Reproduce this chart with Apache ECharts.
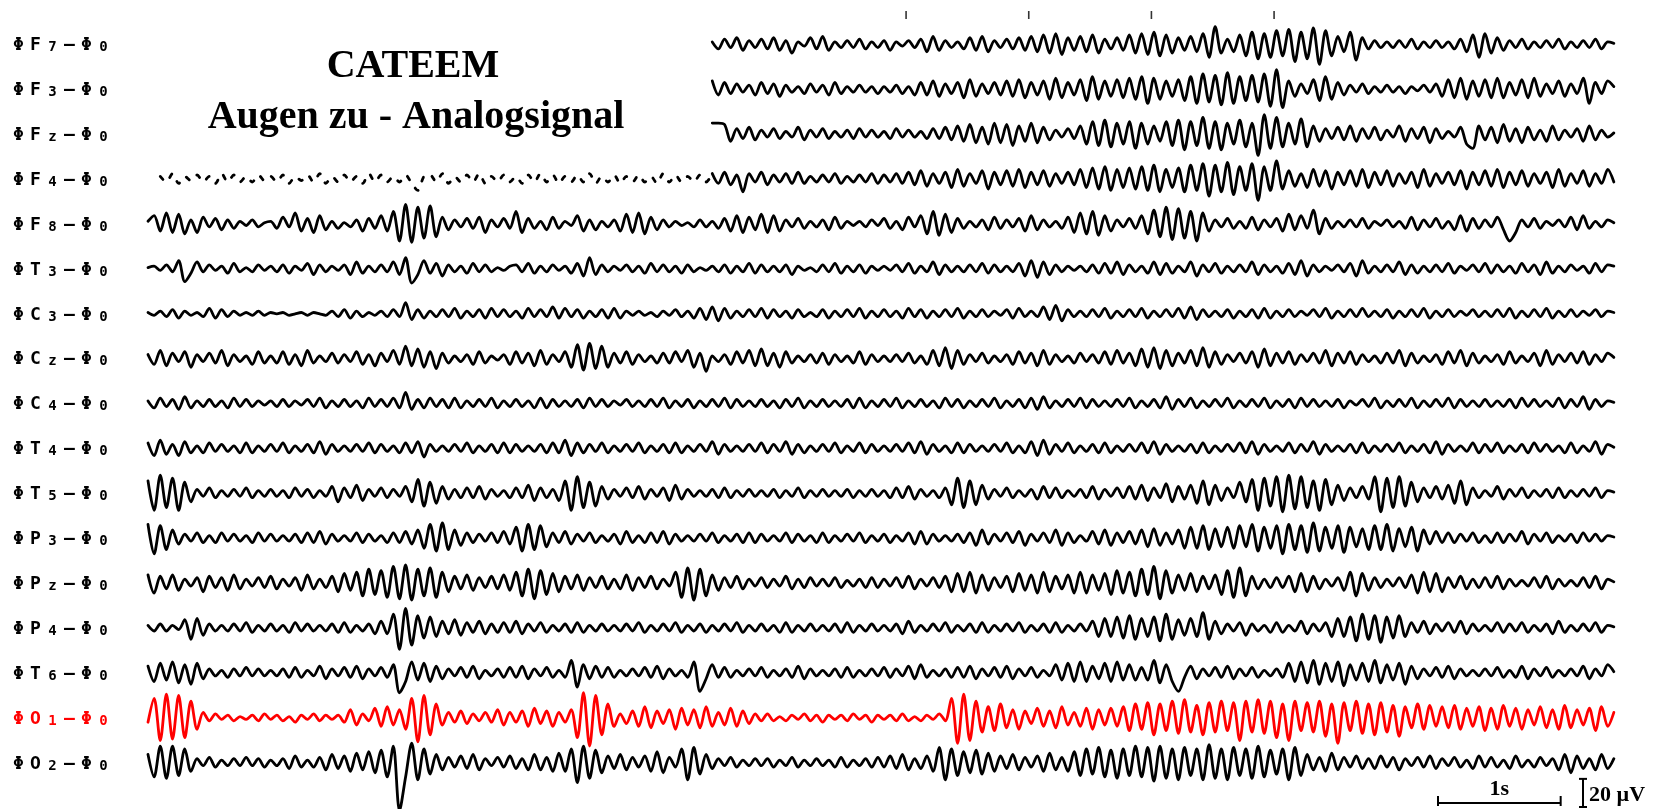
<!DOCTYPE html>
<html><head><meta charset="utf-8">
<script src="https://cdn.jsdelivr.net/npm/echarts@6/dist/echarts.min.js"></script>
<style>html,body{margin:0;padding:0;background:#fff;}#c{width:1662px;height:809px;}</style>
</head><body><div id="c"></div>
<script>
// ---- data ----
const channelLetters = ['F','F','F','F','F','T','C','C','C','T','T','P','P','P','T','O','O'];
const channelSubs    = ['7','3','z','4','8','3','3','z','4','4','5','3','z','4','6','1','2'];
const channelColors  = ['#000','#000','#000','#000','#000','#000','#000','#000','#000','#000','#000','#000','#000','#000','#000','#ff0000','#000'];
const startTimes     = [4.6,4.6,4.6,0,0,0,0,0,0,0,0,0,0,0,0,0,0];   // seconds
const sampleStep = 0.05;            // seconds per sample
const f4DottedSamples = [2, 92];    // F4: dotted part (sample range)
const eventMarks = [6.18, 7.18, 8.18, 9.18];  // seconds
const scaleSeconds = 1, scaleMicroVolt = 20;
const titleLines = ['CATEEM', 'Augen zu - Analogsignal'];

const F7 = [2,-3,4,-2,5,-4,3,-2,
4,-3,5,-4,3,-6,2,-1,5,-3,6,-4,2,-2,3,-2,4,-3,2,-2,
3,-4,2,-1,3,-2,4,-5,6,-4,3,-2,2,-3,5,-4,6,-5,3,-2,
4,-3,5,-4,6,-5,7,-6,8,-7,5,-4,6,-5,7,-6,4,-3,5,-4,
7,-6,8,-7,9,-8,7,-6,5,-4,6,-5,8,-9,13,-6,4,-5,7,-8,
9,-10,8,-9,10,-8,11,-12,9,-10,12,-14,10,-8,6,-5,9,-11,5,-3,
3,-2,2,-2,3,-2,4,-3,2,-2,3,-2,2,-3,4,-5,7,-9,8,-6,
5,-4,3,-2,4,-3,2,-2,3,-2,4,-3,2,-2,3,-2,4,-3,2,1];
const F3 = [6,-4,5,-3,4,-2,3,-4,
5,-3,4,-5,3,-2,2,-3,4,-2,3,-4,5,-3,2,-2,3,-2,2,-3,
2,-2,3,-3,2,-4,5,-4,6,-5,4,-3,5,-6,7,-5,4,-3,5,-4,
6,-5,7,-6,5,-4,6,-7,8,-6,5,-4,7,-8,9,-7,6,-5,7,-6,
8,-7,9,-10,8,-7,6,-5,7,-8,9,-10,11,-9,10,-11,12,-10,9,-8,
10,-9,11,-12,14,-13,6,-5,4,-3,7,-8,9,-7,5,-4,3,-2,4,-3,
2,-2,3,-2,2,-3,2,-1,3,-2,4,-5,7,-6,8,-7,6,-5,7,-6,
8,-6,5,-4,7,-6,8,-5,4,-3,6,-5,4,-3,8,-10,5,-3,6,2];
const Fz = [8,8,7,-5,4,-3,5,-4,
3,-2,4,-3,2,-2,5,-4,3,-2,4,-3,2,-2,3,-3,4,-2,3,-2,
2,-3,4,-2,3,-2,2,-3,4,-3,5,-4,6,-5,7,-6,5,-7,8,-6,
7,-8,6,-5,8,-6,5,-4,3,-2,4,-3,6,-7,9,-8,10,-9,8,-7,
9,-10,8,-7,6,-5,9,-8,10,-11,9,-8,12,-10,9,-11,8,-7,10,-9,
8,-15,14,-10,12,-9,8,-7,11,-9,6,-5,4,-3,5,-4,6,-5,4,-3,
5,-4,3,-2,6,-5,4,-3,5,-6,4,-3,2,-2,5,-7,-10,6,-4,5,
-6,7,-5,4,-6,5,-4,3,-5,6,-4,3,-2,4,-5,6,-4,3,-2,1];
const F4 = [3,-3,2,-2,4,-3,2,-1,3,-2,2,-3,4,-2,3,-2,2,-2,3,-1,
2,-2,3,-3,2,-1,3,-2,4,-3,2,-2,3,-2,2,-3,4,-2,3,-2,
2,-2,3,-3,-8,2,3,-2,4,-3,2,-2,3,-2,4,-3,2,-2,3,-2,
2,-3,3,-2,4,-2,3,-3,2,-2,3,-2,4,-3,2,-2,3,-3,2,-2,
3,-2,2,-3,4,-2,3,-2,2,-2,3,-2,4,-3,5,-4,3,-9,4,-2,
5,-4,3,-2,4,-3,5,-3,2,-2,3,-2,4,-3,2,-2,3,-2,4,-3,
3,-2,4,-3,5,-4,6,-5,4,-3,5,-6,7,-5,4,-3,6,-7,5,-4,
6,-5,7,-6,5,-4,6,-5,4,-3,5,-4,7,-6,8,-7,9,-8,7,-6,
8,-7,9,-8,10,-9,7,-6,8,-9,10,-8,11,-12,10,-9,12,-11,9,-8,
11,-15,9,-8,13,-7,6,-5,4,-6,7,-5,6,-7,5,-4,6,-5,7,-6,
5,-4,6,-5,4,-3,5,-6,7,-5,4,-3,5,-4,6,-7,5,-4,6,-5,
7,-6,5,-4,6,-5,4,-3,5,-6,7,-5,4,-3,6,-5,4,-3,7,-2];
const F8 = [2,6,-5,8,-6,7,-7,3,-6,5,-2,4,-4,3,-3,2,-1,3,-2,1,
2,-3,5,-2,8,-5,4,-6,6,-4,2,-3,1,-2,3,-5,4,-3,6,-5,
9,-12,14,-13,12,-10,13,-9,5,-4,3,-2,4,-3,5,-6,3,-2,4,-3,
9,-6,4,-3,2,-4,5,-3,2,-1,6,-5,3,-4,2,-2,3,-5,7,-6,
8,-7,5,-4,3,-2,2,-1,1,-2,3,-2,2,-3,4,-5,6,-6,5,-4,
7,-6,6,-5,3,-2,4,-3,2,-2,3,-4,5,-3,2,-1,2,-2,3,-1,
4,-3,2,-4,5,-2,6,-7,9,-8,7,-6,4,-3,2,-2,3,-4,5,-3,
3,-2,4,-5,6,-4,3,-2,2,-3,5,-6,8,-7,9,-8,6,-5,3,-2,
4,-3,6,-7,10,-9,12,-11,11,-10,9,-12,8,-5,3,-2,4,-3,2,-3,
5,-4,3,-2,4,-5,7,-4,6,-3,10,-7,4,-3,2,-2,3,-2,4,-3,
2,-1,3,-2,2,-3,5,-4,3,-2,4,-3,2,-4,6,-5,4,-3,3,-2,
5,-4,-12,-6,3,-2,4,-3,2,-1,3,-2,5,-4,6,-3,2,-2,3,1];
const T3 = [1,2,-1,3,-2,6,-9,-3,5,-2,3,-1,2,-3,4,-2,1,-2,3,-1,
2,-2,3,-3,2,-1,4,-4,3,-2,2,-1,3,-4,5,-3,2,-2,3,-2,
5,-4,8,-10,-4,6,-3,4,-5,3,-2,2,-3,4,-2,3,-2,1,-1,2,
3,-2,4,-3,2,-2,3,-1,2,-3,4,-5,8,-4,3,-2,2,-1,3,-2,
2,-3,4,-2,3,-2,2,-3,3,-2,1,-1,2,-2,3,-3,2,-2,4,-3,
3,-2,2,-2,3,-4,2,-1,1,-2,3,-2,4,-3,2,-2,3,-3,2,-1,
2,-1,3,-2,4,-3,2,-2,5,-4,3,-2,2,-2,3,-2,4,-3,3,-2,
2,-2,4,-5,6,-6,5,-4,3,-2,2,-1,2,-2,3,-3,4,-3,5,-4,
3,-2,2,-3,5,-4,4,-3,2,-2,5,-5,3,-2,4,-3,2,-2,3,-2,
5,-4,3,-2,2,-3,4,-4,6,-5,3,-2,2,-1,3,-2,4,-5,6,-3,
2,-2,3,-2,5,-4,3,-3,2,-2,3,-2,4,-3,2,-1,3,-2,4,-3,
3,-2,2,-3,4,-2,3,-4,5,-3,2,-2,3,-1,2,-3,4,-2,3,2];
const C3 = [1,-1,2,-2,3,-3,2,-1,1,-2,4,-3,3,-2,2,-1,1,-1,2,-1,
1,0,1,-1,0,1,-1,1,0,-1,2,-2,3,-3,2,-2,1,-1,2,-2,
3,-2,8,-4,3,-3,2,-2,3,-2,4,-3,2,-2,3,-3,4,-2,3,-2,
2,-3,4,-2,3,-2,5,-3,4,-2,3,-3,2,-2,3,-3,4,-3,2,-1,
2,-1,1,-2,2,-1,3,-2,2,-3,4,-4,5,-5,4,-3,2,-2,3,-2,
4,-3,3,-2,2,-3,3,-2,1,-2,3,-3,2,-2,3,-2,4,-3,2,-2,
3,-2,2,-3,4,-2,3,-3,2,-2,3,-2,4,-3,2,-2,3,-2,2,-1,
3,-3,4,-2,2,-2,5,-4,6,-5,3,-2,2,-2,3,-2,4,-3,2,-2,
3,-2,4,-3,2,-2,3,-2,4,-3,5,-4,3,-2,2,-2,3,-3,2,-2,
3,-3,4,-3,2,-2,3,-2,2,-1,3,-2,4,-3,2,-2,3,-2,4,-2,
2,-2,3,-3,2,-2,3,-2,4,-3,2,-2,3,-2,2,-1,3,-2,2,-2,
3,-2,4,-3,2,-2,3,-2,4,-3,2,-2,3,-2,2,-1,3,-2,2,1];
const Cz = [3,-4,6,-5,4,-2,5,-6,3,-2,4,-3,6,-5,3,-2,2,-4,5,-3,
2,-3,5,-4,3,-5,6,-3,2,-2,4,-3,3,-2,5,-4,3,-5,4,-2,
6,-4,9,-5,7,-6,5,-7,4,-3,2,-2,3,-4,5,-3,2,-1,3,-4,
5,-3,4,-5,6,-4,3,-2,5,-6,10,-8,11,-7,9,-6,4,-3,5,-4,
3,-2,2,-3,4,-3,5,-2,6,-6,4,-9,2,-2,3,-4,5,-3,6,-5,
7,-5,4,-6,5,-3,2,-2,3,-3,4,-4,3,-2,2,-3,5,-4,3,-2,
2,-2,3,-2,4,-3,2,-4,6,-5,8,-7,6,-4,3,-2,4,-3,2,-2,
3,-4,5,-3,4,-5,6,-4,3,-2,2,-3,4,-2,3,-3,5,-4,6,-3,
4,-5,7,-6,8,-7,6,-5,4,-3,6,-5,8,-6,5,-4,3,-2,4,-3,
5,-6,7,-5,4,-3,5,-4,3,-2,4,-3,6,-5,4,-3,5,-4,3,-2,
2,-3,4,-3,6,-5,4,-3,2,-2,3,-4,5,-3,6,-5,4,-3,2,-2,
3,-4,5,-3,2,-2,4,-5,6,-4,3,-2,4,-3,5,-4,3,-2,4,1];
const C4 = [2,-3,4,-2,3,-4,5,-3,2,-2,3,-2,2,-3,4,-2,3,-2,2,-1,
2,-2,3,-2,2,-1,3,-2,4,-3,2,-2,3,-2,2,-3,4,-2,3,-2,
4,-3,8,-4,3,-3,4,-2,3,-3,4,-3,2,-2,3,-2,4,-3,2,-2,
3,-2,2,-3,4,-3,3,-2,2,-2,3,-3,4,-2,3,-2,2,-1,3,-2,
2,-2,3,-2,4,-3,2,-2,3,-3,2,-2,3,-2,4,-3,3,-2,2,-2,
3,-2,2,-3,3,-2,4,-3,2,-2,3,-2,2,-2,3,-3,4,-3,2,-2,
3,-2,4,-3,2,-2,3,-2,2,-3,4,-2,3,-3,2,-2,3,-2,4,-3,
2,-2,3,-3,4,-4,5,-3,2,-2,3,-2,4,-3,3,-2,2,-2,3,-2,
4,-3,2,-2,3,-3,5,-4,3,-2,4,-3,2,-2,3,-2,4,-3,2,-2,
3,-2,4,-3,2,-2,3,-3,4,-2,3,-2,2,-2,3,-3,2,-1,3,-2,
4,-3,2,-2,3,-2,4,-3,2,-2,3,-2,4,-3,3,-2,2,-2,3,-2,
2,-2,3,-3,4,-2,3,-2,2,-2,4,-3,3,-2,5,-4,3,-2,2,1];
const T4 = [4,-5,6,-4,3,-5,5,-3,2,-3,4,-2,3,-2,2,-3,4,-3,2,-2,
3,-2,4,-3,2,-2,3,-3,5,-4,3,-2,2,-2,3,-2,4,-3,3,-2,
2,-3,4,-3,5,-6,3,-2,2,-2,3,-2,4,-3,2,-2,3,-3,4,-3,
3,-2,2,-2,3,-3,4,-3,6,-5,4,-3,3,-2,4,-3,2,-2,3,-2,
4,-3,2,-2,3,-3,4,-3,2,-2,3,-2,5,-4,3,-2,2,-2,3,-2,
4,-3,3,-2,5,-4,3,-3,2,-2,3,-2,4,-3,2,-2,4,-3,3,-2,
2,-2,3,-2,4,-3,5,-4,3,-2,2,-3,4,-3,3,-2,2,-2,3,-2,
4,-3,2,-3,5,-5,6,-4,3,-2,4,-3,2,-2,3,-3,4,-3,2,-2,
3,-2,4,-3,5,-4,3,-2,2,-2,3,-3,4,-3,2,-2,3,-2,4,-3,
5,-4,3,-2,2,-2,4,-3,3,-2,5,-4,3,-2,2,-2,3,-3,4,-3,
2,-2,3,-2,4,-3,2,-2,3,-3,5,-4,3,-2,2,-2,4,-3,3,-2,
4,-3,2,-2,3,-3,4,-2,3,-2,2,-3,4,-3,2,-2,5,-4,3,1];
const T5 = [9,-12,13,-10,11,-12,8,-6,3,-2,4,-3,2,-2,3,-2,4,-3,2,-2,
3,-2,2,-3,4,-2,3,-3,2,-2,5,-6,4,-3,6,-5,3,-2,4,-3,
3,-2,5,-6,10,-9,8,-7,5,-4,3,-3,4,-3,5,-4,3,-2,2,-3,
4,-3,6,-5,4,-3,3,-5,9,-12,12,-10,8,-9,5,-4,3,-2,4,-3,
5,-4,3,-2,4,-5,6,-4,3,-2,2,-2,3,-3,4,-3,2,-2,3,-2,
2,-2,3,-3,2,-2,4,-3,2,-2,3,-2,2,-2,3,-3,2,-2,3,-2,
2,-3,4,-3,5,-4,3,-2,2,-3,4,-8,11,-10,9,-8,6,-4,3,-2,
4,-3,2,-2,3,-4,5,-3,4,-3,2,-2,3,-3,5,-4,3,-2,4,-3,
5,-4,6,-5,4,-3,7,-6,5,-4,6,-7,9,-8,6,-5,4,-3,8,-6,
10,-12,11,-9,12,-13,13,-11,12,-10,9,-12,10,-8,6,-5,4,-3,5,-4,
12,-13,11,-10,12,-9,8,-6,4,-3,5,-4,6,-7,9,-8,4,-3,2,-2,
5,-4,3,-2,4,-3,2,-2,3,-3,4,-3,2,-2,3,-2,4,-3,2,1];
const P3 = [10,-11,9,-8,6,-4,3,-2,4,-3,2,-3,4,-2,3,-2,2,-3,4,-2,
3,-2,2,-2,3,-3,4,-3,5,-4,3,-2,2,-2,4,-3,3,-2,2,-3,
4,-3,5,-4,6,-7,10,-9,11,-8,6,-5,4,-3,3,-2,4,-3,5,-4,
8,-9,10,-8,9,-6,4,-3,5,-4,3,-2,4,-3,2,-2,3,-4,5,-3,
2,-3,4,-3,5,-4,3,-2,2,-2,3,-2,4,-3,2,-2,3,-3,4,-3,
3,-2,2,-2,4,-3,3,-2,2,-3,4,-3,2,-2,3,-2,4,-3,2,-2,
3,-3,2,-2,4,-4,5,-4,3,-2,2,-2,3,-3,4,-5,6,-4,3,-2,
4,-3,5,-5,3,-2,4,-3,6,-5,4,-3,2,-2,5,-4,6,-5,4,-3,
5,-4,6,-6,7,-5,4,-4,6,-7,8,-7,9,-8,7,-6,8,-7,9,-6,
10,-9,8,-7,9,-11,10,-8,9,-10,11,-9,8,-7,9,-10,8,-6,7,-8,
9,-8,10,-9,7,-6,8,-9,6,-4,5,-3,4,-3,3,-2,4,-3,2,-3,
4,-3,3,-2,5,-4,3,-2,4,-3,2,-2,3,-3,4,-2,3,-2,2,1];
const Pz = [6,-7,5,-4,6,-5,3,-2,4,-6,5,-3,4,-5,6,-4,3,-2,4,-3,
5,-4,3,-2,4,-5,6,-4,3,-3,5,-6,7,-5,8,-9,10,-8,9,-10,
12,-11,13,-12,10,-9,11,-10,8,-6,5,-4,6,-5,4,-3,5,-4,6,-5,
8,-9,10,-11,9,-8,7,-6,5,-4,6,-5,4,-3,5,-4,3,-4,6,-5,
4,-3,5,-4,3,-2,8,-10,11,-12,10,-9,6,-5,4,-3,5,-4,3,-2,
4,-3,3,-2,5,-4,3,-3,4,-2,3,-2,4,-3,2,-2,3,-3,4,-3,
3,-2,4,-3,5,-4,3,-2,4,-3,5,-6,7,-6,8,-7,6,-5,4,-3,
5,-6,7,-5,6,-7,8,-6,5,-4,6,-7,8,-7,6,-5,7,-8,9,-7,
8,-9,10,-8,12,-11,9,-7,6,-5,7,-6,5,-4,6,-8,9,-10,11,-9,
5,-4,3,-3,4,-3,5,-6,7,-6,5,-4,3,-2,4,-5,8,-9,7,-5,
4,-3,3,-2,4,-3,6,-7,8,-6,7,-6,4,-3,5,-4,3,-3,4,-3,
5,-4,3,-2,2,-2,4,-3,5,-4,3,-2,2,-2,4,-3,5,-4,3,1];
const P4 = [2,-2,3,-2,2,-1,6,-8,7,-5,3,-2,2,-2,3,-2,4,-3,2,-2,
3,-2,2,-3,4,-2,3,-2,2,-2,3,-3,4,-3,2,-2,3,-4,5,-4,
10,-15,14,-12,9,-7,8,-6,5,-4,6,-5,4,-3,5,-4,3,-3,4,-3,
5,-4,3,-2,4,-3,2,-2,3,-3,4,-3,2,-2,3,-2,2,-2,3,-2,
4,-3,2,-2,3,-2,4,-3,2,-2,3,-3,2,-2,3,-2,4,-3,2,-2,
3,-2,2,-3,4,-3,2,-2,3,-2,2,-2,3,-3,4,-3,2,-2,3,-2,
2,-2,3,-4,5,-3,2,-2,3,-2,4,-3,2,-2,3,-3,4,-3,2,-2,
3,-2,4,-3,2,-2,3,-3,4,-3,2,-2,3,-2,5,-6,7,-6,8,-7,
9,-8,7,-6,8,-9,10,-8,6,-5,7,-6,11,-8,5,-4,3,-2,4,-5,
3,-2,2,-3,4,-3,2,-2,5,-4,3,-2,4,-6,7,-6,8,-9,10,-8,
9,-10,8,-7,9,-6,4,-3,5,-4,3,-2,4,-3,5,-4,3,-2,2,-2,
4,-3,3,-2,4,-3,2,-2,3,-4,5,-3,2,-2,3,-2,4,-3,2,1];
const T6 = [5,-6,7,-5,8,-7,6,-8,7,-4,3,-2,2,-3,3,-2,4,-2,3,-2,
2,-2,3,-3,4,-3,2,-2,5,-4,3,-2,4,-3,5,-4,3,-2,4,-3,
6,-14,-6,8,-5,7,-6,5,-4,3,-2,4,-3,5,-4,2,-2,3,-3,4,
-3,5,-4,3,-2,4,-3,2,-3,9,-10,6,-4,5,-3,4,-3,2,-2,3,
-2,4,-3,5,-4,3,-2,2,-3,8,-13,-4,6,-3,4,-3,2,-2,3,-2,
4,-3,2,-2,3,-3,5,-4,3,-2,2,-2,3,-3,4,-3,2,-2,3,-2,
4,-3,3,-2,5,-4,6,-3,2,-2,3,-3,4,-3,5,-4,3,-2,4,-3,
5,-4,3,-2,4,-3,2,-2,6,-5,7,-6,8,-6,5,-4,7,-6,8,-5,
6,-5,4,-5,9,-7,6,-6,-13,-3,5,-4,3,-2,4,-3,5,-4,3,-2,
4,-3,2,-2,3,-3,7,-6,8,-7,9,-8,7,-6,8,-9,6,-5,7,-6,
9,-7,6,-5,7,-8,5,-4,3,-2,4,-3,5,-4,3,-2,2,-2,3,-2,
4,-3,2,-3,5,-4,3,-2,4,-3,2,-2,3,-2,5,-4,3,-2,6,1];
const O1 = [-3,14,-16,17,-15,16,-14,12,-8,4,-2,3,-1,2,-2,1,-1,2,-2,3,
-1,2,-2,1,-3,2,-1,3,-2,2,-1,2,-3,6,-5,3,-2,7,-6,8,
-5,6,-8,14,-17,16,-12,10,-5,4,-3,5,-4,3,-2,4,-3,6,-5,4,
-3,5,-6,7,-4,5,-6,4,-3,6,-14,18,-20,16,-12,10,-6,3,-4,5,
-6,8,-7,5,-4,6,-8,7,-5,6,-7,8,-6,4,-5,7,-6,5,-4,3,
-2,3,-2,1,-2,2,-1,3,-2,2,-3,2,-1,2,-2,3,-1,2,-3,2,
-1,2,-2,3,-2,1,-2,2,-1,3,-2,14,-18,17,-16,12,-10,8,-9,10,
-7,6,-8,5,-4,7,-6,5,-7,8,-5,4,-6,7,-8,6,-5,7,-6,8,
-9,10,-8,11,-12,10,-9,12,-11,13,-10,9,-12,11,-10,12,-9,11,-16,12,
-10,13,-11,12,-14,10,-16,12,-9,11,-10,12,-13,10,-18,11,-9,12,-11,10,
-12,11,-10,9,-13,8,-7,10,-8,9,-6,8,-7,9,-8,7,-6,8,-9,7,
-8,9,-6,7,-8,6,-5,8,-7,6,-8,9,-7,6,-5,7,-9,8,-6,4];
const O2 = [6,-10,12,-11,12,-9,10,-6,3,-2,4,-3,2,-2,3,-2,4,-2,3,-3,
2,-2,3,-4,5,-3,2,-3,4,-5,6,-4,5,-6,7,-5,8,-7,9,-10,
12,-34,-10,14,-12,10,-8,6,-5,4,-3,5,-4,6,-5,3,-2,4,-3,5,
-4,3,-5,6,-5,4,-6,7,-6,10,-14,12,-11,9,-7,5,-4,6,-5,4,
-3,5,-6,8,-7,4,-3,10,-12,11,-8,6,-4,3,-2,4,-3,2,-2,3,
-2,3,-3,2,-2,4,-3,2,-2,3,-2,2,-3,4,-3,2,-2,3,-3,4,
-3,5,-4,6,-5,3,-4,5,-6,11,-12,10,-9,8,-7,9,-8,7,-6,5,
-4,6,-5,4,-3,5,-6,7,-5,4,-6,8,-9,10,-8,11,-10,9,-11,10,
-9,12,-10,11,-13,12,-11,10,-12,11,-9,10,-12,13,-11,10,-12,11,-9,10,
-11,12,-10,9,-8,10,-12,11,-9,6,-5,4,-6,7,-5,4,-3,5,-4,3,
-4,5,-3,4,-5,3,-2,4,-3,5,-4,3,-2,4,-3,2,-4,5,-3,4,
-3,2,-4,5,-3,2,-3,4,-2,3,-5,6,-7,5,-4,3,-5,6,-4,3];
const traces = [F7,F3,Fz,F4,F8,T3,C3,Cz,C4,T4,T5,P3,Pz,P4,T6,O1,O2];

// ---- layout ----
const W = 1662, H = 809;
const plotLeft = 148, plotWidth = 1472, tMax = 12;
const firstBase = 44.5, rowGap = 44.9, halfRange = 32, halfPx = 45; // ~1.4 px per µV
const pxPerSec = plotWidth / tMax, pxPerUV = halfPx / halfRange;
const traceWidth = 2.8;

const grids = [], xAxes = [], yAxes = [], series = [], graphics = [];
function addGrid(top, height, ymin, ymax) {
  const gi = grids.length;
  grids.push({left: plotLeft, width: plotWidth, top: top, height: height});
  xAxes.push({type: 'value', gridIndex: gi, min: 0, max: tMax, show: false});
  yAxes.push({type: 'value', gridIndex: gi, min: ymin, max: ymax, show: false});
  return gi;
}
function toPairs(arr, t0, from, to) {
  const out = [];
  for (let k = from; k < Math.min(to, arr.length); k++) out.push([+(t0 + k * sampleStep).toFixed(3), arr[k]]);
  return out;
}
function lineSeries(gi, color, data, dashed) {
  return {type: 'line', xAxisIndex: gi, yAxisIndex: gi, showSymbol: false, silent: true, clip: false, smooth: 0.3,
    lineStyle: {color: color, width: traceWidth, type: dashed ? [4, 10] : 'solid', join: 'round', cap: 'round'}, data: data};
}
traces.forEach((arr, i) => {
  const base = firstBase + rowGap * i;
  const gi = addGrid(base - halfPx, halfPx * 2, -halfRange, halfRange);
  const color = channelColors[i];
  if (i === 3) {
    series.push(lineSeries(gi, color, toPairs(arr, startTimes[i], f4DottedSamples[0], f4DottedSamples[1] + 1), true));
    series.push(lineSeries(gi, color, toPairs(arr, startTimes[i], f4DottedSamples[1], arr.length), false));
  } else {
    series.push(lineSeries(gi, color, toPairs(arr, startTimes[i], 0, arr.length), false));
  }
  graphics.push({type: 'text', x: 10, y: base, silent: true, style: {
    text: '{c|Φ}{c|' + channelLetters[i] + '}{s|' + channelSubs[i] + '}{c|–}{c|Φ}{s|0}',
    verticalAlign: 'middle', align: 'left', fill: color,
    rich: {
      c: {fontFamily: 'DejaVu Sans Mono', fontWeight: 'bold', fontSize: 18, width: 17, align: 'center', lineHeight: 20, verticalAlign: 'bottom', fill: color},
      s: {fontFamily: 'DejaVu Sans Mono', fontWeight: 'bold', fontSize: 14, width: 17, align: 'center', lineHeight: 12, verticalAlign: 'bottom', fill: color}
    }
  }});
});
// event marks grid at top
const mg = addGrid(11, 8, 0, 1);
series.push({type: 'scatter', xAxisIndex: mg, yAxisIndex: mg, silent: true, symbol: 'rect', symbolSize: [1.6, 8],
  itemStyle: {color: '#000'}, data: eventMarks.map(t => [t, 0.5])});

// titles
graphics.push({type: 'text', x: 413, y: 67, silent: true, style: {text: titleLines[0], align: 'center', verticalAlign: 'middle',
  fontFamily: 'Liberation Serif', fontWeight: 'bold', fontSize: 40, fill: '#000'}});
graphics.push({type: 'text', x: 416, y: 118, silent: true, style: {text: titleLines[1], align: 'center', verticalAlign: 'middle',
  fontFamily: 'Liberation Serif', fontWeight: 'bold', fontSize: 40, fill: '#000'}});

// scale bars
const sbX0 = 1438, sbY = 803;
const sbX1 = sbX0 + scaleSeconds * pxPerSec;
graphics.push({type: 'line', silent: true, shape: {x1: sbX0, y1: sbY, x2: sbX1, y2: sbY}, style: {stroke: '#000', lineWidth: 2}});
graphics.push({type: 'line', silent: true, shape: {x1: sbX0, y1: sbY - 7, x2: sbX0, y2: sbY + 3}, style: {stroke: '#000', lineWidth: 2}});
graphics.push({type: 'line', silent: true, shape: {x1: sbX1, y1: sbY - 7, x2: sbX1, y2: sbY + 3}, style: {stroke: '#000', lineWidth: 2}});
graphics.push({type: 'text', x: (sbX0 + sbX1) / 2, y: 800, silent: true, style: {text: scaleSeconds + 's', align: 'center', verticalAlign: 'bottom',
  fontFamily: 'Liberation Serif', fontWeight: 'bold', fontSize: 22, fill: '#000'}});
const uvX = 1583, uvY1 = 807, uvY0 = uvY1 - scaleMicroVolt * pxPerUV;
graphics.push({type: 'line', silent: true, shape: {x1: uvX, y1: uvY0, x2: uvX, y2: uvY1}, style: {stroke: '#000', lineWidth: 2}});
graphics.push({type: 'line', silent: true, shape: {x1: uvX - 4, y1: uvY0, x2: uvX + 4, y2: uvY0}, style: {stroke: '#000', lineWidth: 2}});
graphics.push({type: 'line', silent: true, shape: {x1: uvX - 4, y1: uvY1, x2: uvX + 4, y2: uvY1}, style: {stroke: '#000', lineWidth: 2}});
graphics.push({type: 'text', x: 1589, y: 795, silent: true, style: {text: scaleMicroVolt + ' µV', align: 'left', verticalAlign: 'middle',
  fontFamily: 'Liberation Serif', fontWeight: 'bold', fontSize: 22, fill: '#000'}});

const chart = echarts.init(document.getElementById('c'), null, {renderer: 'canvas'});
chart.setOption({
  backgroundColor: '#fff', animation: false,
  grid: grids, xAxis: xAxes, yAxis: yAxes, series: series, graphic: graphics
});
</script></body></html>
